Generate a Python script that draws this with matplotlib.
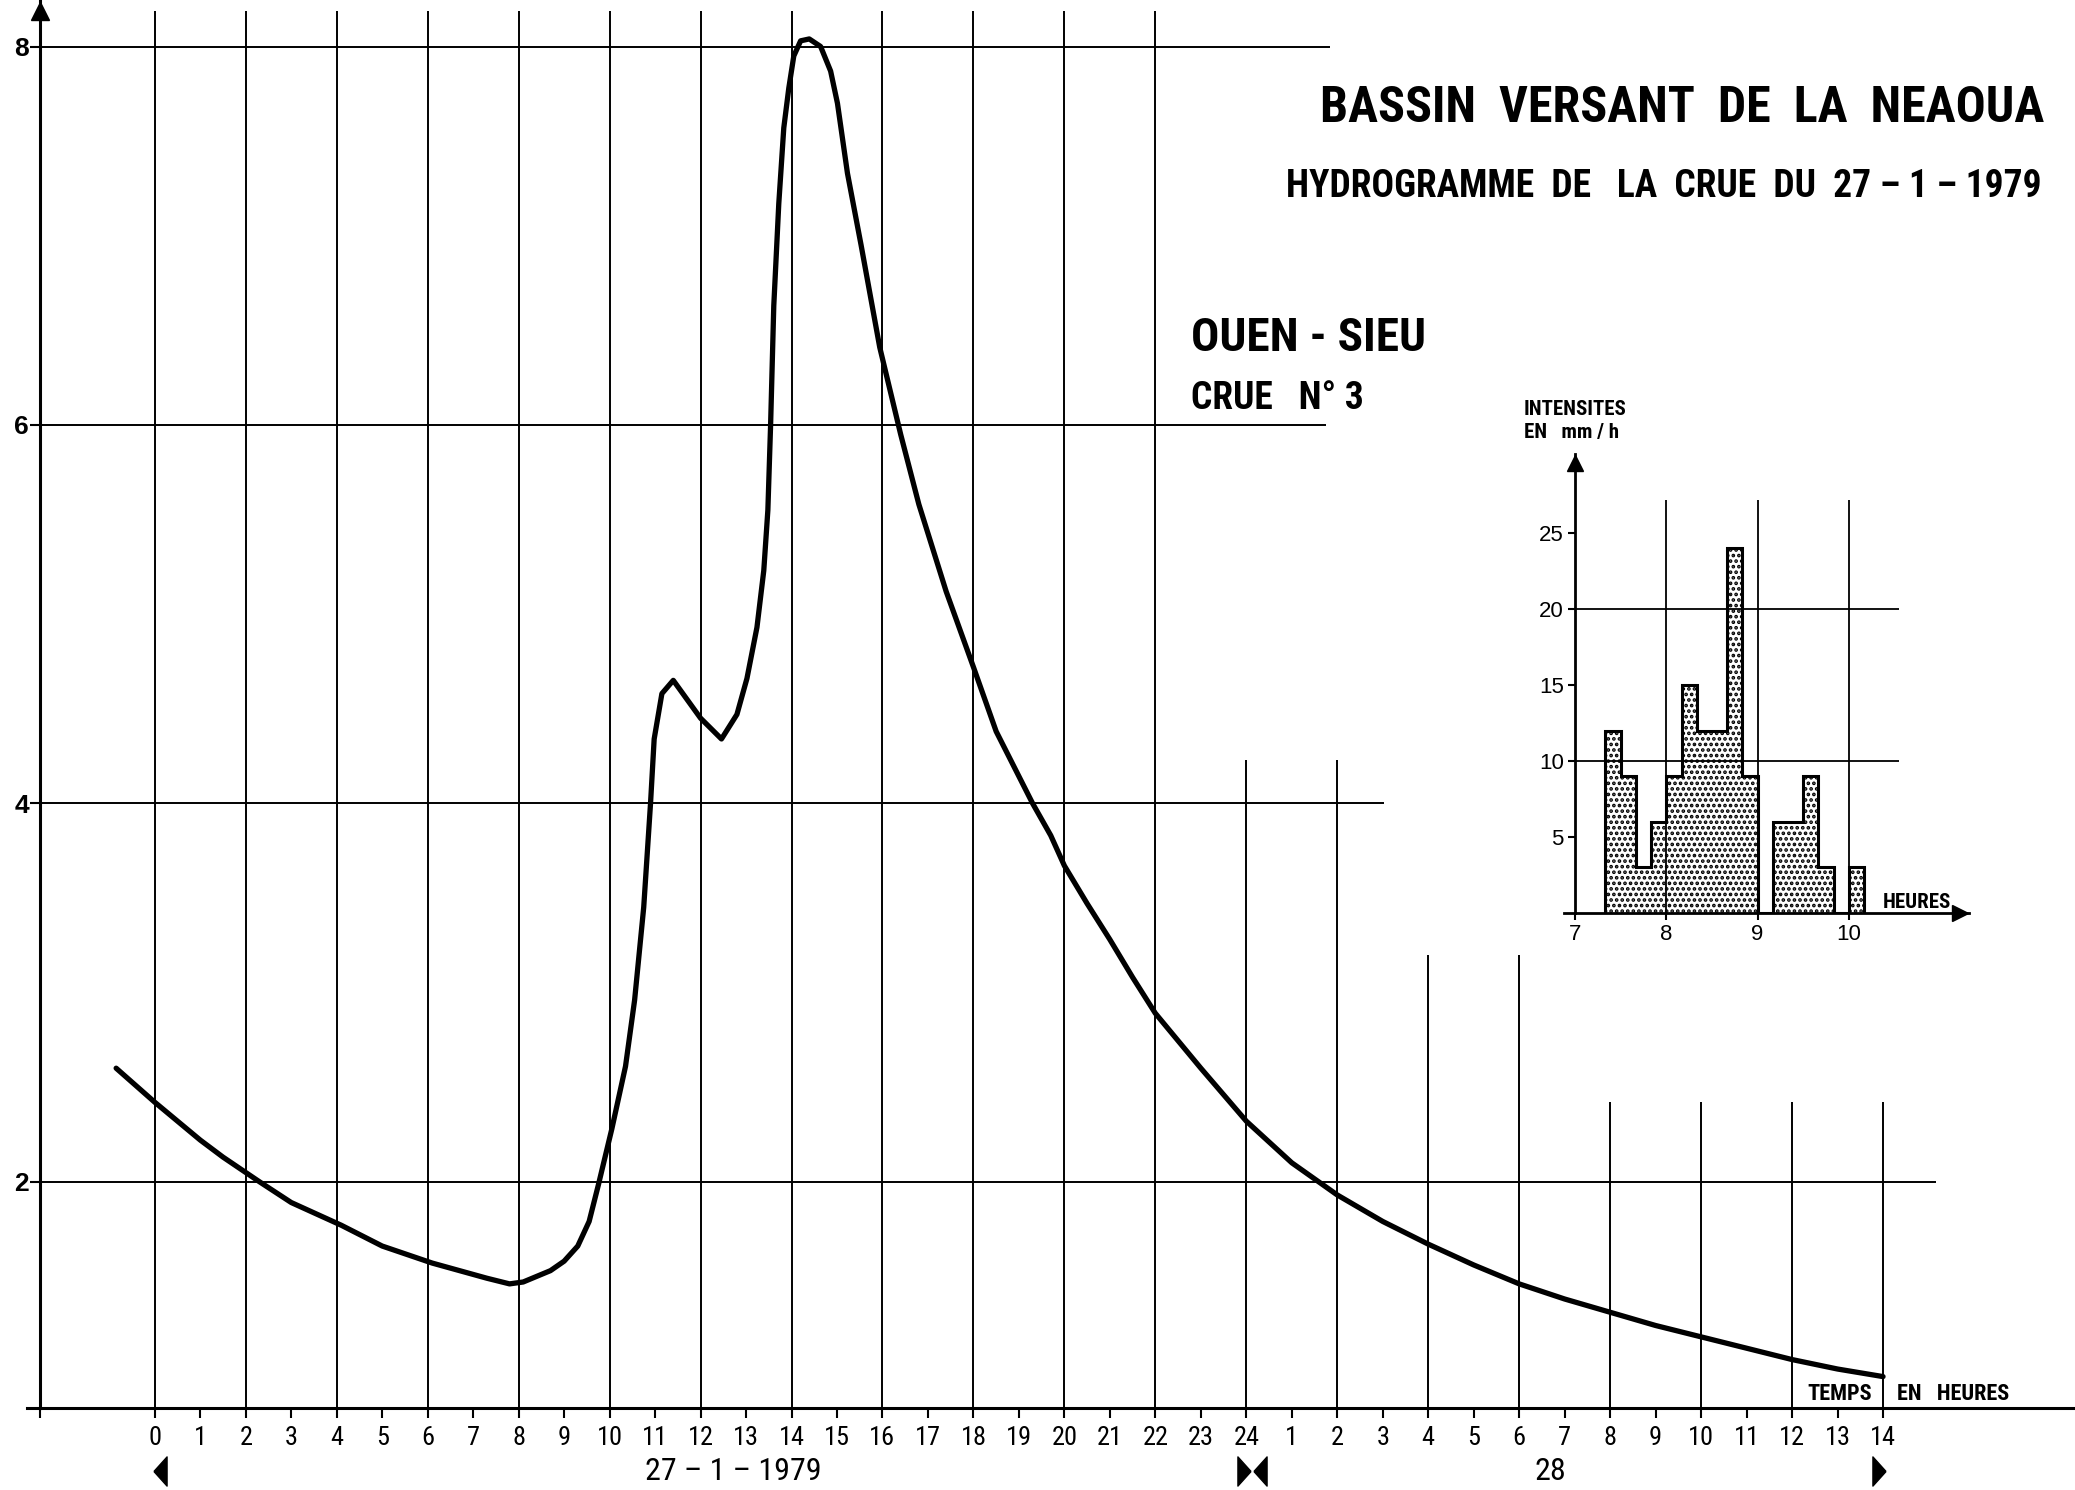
import numpy as np
import matplotlib.pyplot as plt
from matplotlib.ticker import FixedLocator

# Hydrogramme : temps en heures depuis le 27-1-1979 a 0 h, debit
heures = [-0.85, 0, 0.5, 1, 1.5, 2.3, 3, 4.1, 5, 6.1, 7, 7.3, 7.8, 8.1, 8.7, 9.0, 9.3, 9.55,
          9.75, 10.05, 10.35, 10.55, 10.75, 10.9, 10.98, 11.15, 11.4, 12.0, 12.46, 12.8,
          13.02, 13.24, 13.39, 13.48, 13.54, 13.61, 13.72, 13.83, 13.94, 14.05, 14.2,
          14.39, 14.64, 14.86, 15.01, 15.23, 15.53, 15.94, 16.4, 16.8,
          17.4, 18.0, 18.5, 19.3, 19.7, 20, 20.5, 21, 21.5, 22, 23, 24, 25, 26, 27, 28,
          29, 30, 31, 32, 33, 34, 35, 36, 37, 38]
debits = [2.60, 2.42, 2.32, 2.22, 2.13, 2.0, 1.89, 1.77, 1.66, 1.57, 1.51, 1.49, 1.46, 1.47,
          1.53, 1.58, 1.66, 1.79, 1.98, 2.28, 2.61, 2.96, 3.45, 4.0, 4.34, 4.58, 4.65, 4.45,
          4.34, 4.47, 4.66, 4.93, 5.23, 5.55, 6.0, 6.63, 7.17, 7.57, 7.78, 7.95, 8.03,
          8.04, 8.0, 7.87, 7.70, 7.33, 6.95, 6.41, 5.95, 5.58,
          5.12, 4.72, 4.38, 4.0, 3.83, 3.67, 3.47, 3.28, 3.08, 2.89, 2.60, 2.32, 2.10, 1.93,
          1.79, 1.67, 1.56, 1.46, 1.38, 1.31, 1.24, 1.18, 1.12, 1.06, 1.01, 0.97]

# graduations de l'axe des temps (27 puis 28 janvier)
etiquettes_heures = [str(h) for h in range(0, 25)] + [str(h) for h in range(1, 15)]
ticks_y = [2, 4, 6, 8]

# Hyetogramme : pas de 10 minutes a partir de 7 h 20 (minutes apres 7 h)
bornes_min = [20, 30, 40, 50, 60, 70, 80, 90, 100, 110, 120, 130, 140, 150, 160, 170, 180, 190]
intensites = [12, 9, 3, 6, 9, 15, 12, 12, 24, 9, 0, 6, 6, 9, 3, 0, 3]
ticks_int = [5, 10, 15, 20, 25]
ticks_h_int = [7, 8, 9, 10]

COND = ['Roboto Condensed', 'DejaVu Sans']
REG = ['Liberation Sans', 'DejaVu Sans']
plt.rcParams['font.family'] = COND
plt.rcParams['hatch.linewidth'] = 1.8

W, H = 2075, 1490
fig = plt.figure(figsize=(W / 100, H / 100), dpi=100)
fig.patch.set_facecolor('white')

########################## Graphique principal ##########################
px_h = 45.48      # pixels par heure
px_q = 189.2      # pixels par unite de debit
x0_axe, y0_axe = 40, 1408
h_axe = (x0_axe - 154.8) / px_h
q_axe = 0.804
ax = fig.add_axes([x0_axe / W, (H - y0_axe) / H, (W - x0_axe) / W, y0_axe / H])
ax.set_xlim(h_axe, h_axe + (W - x0_axe) / px_h)
ax.set_ylim(q_axe, q_axe + y0_axe / px_q)

for s in ['top', 'right']:
    ax.spines[s].set_visible(False)
for s in ['left', 'bottom']:
    ax.spines[s].set_linewidth(2.2)

ax.set_xticks(range(len(etiquettes_heures)))
ax.set_xticklabels(etiquettes_heures)
ax.xaxis.set_minor_locator(FixedLocator([h_axe]))
ax.tick_params(axis='x', which='both', direction='out', length=7, width=1.5,
               labelsize=19, pad=6)
ax.set_yticks(ticks_y)
ax.tick_params(axis='y', direction='out', length=7, width=1.5, labelsize=19, pad=1)
for lab in ax.get_yticklabels():
    lab.set_family(REG)
    lab.set_fontweight('bold')

# fleche de l'axe des debits
ax.plot([h_axe], [8.19], marker='^', ms=13, color='k', clip_on=False)
ax.plot([h_axe - 0.28, h_axe], [q_axe, q_axe], color='k', lw=2.2, clip_on=False)

# quadrillage
lw_g = 1.4
ax.vlines(range(0, 23, 2), q_axe, 8.19, color='k', lw=lw_g)
ax.vlines([24, 26], q_axe, 4.23, color='k', lw=lw_g)
ax.vlines([28, 30], q_axe, 3.20, color='k', lw=lw_g)
ax.vlines([32, 34, 36, 38], q_axe, 2.42, color='k', lw=lw_g)
ax.hlines(8, h_axe, 25.84, color='k', lw=lw_g)
ax.hlines(6, h_axe, 25.75, color='k', lw=lw_g)
ax.hlines(4, h_axe, 27.03, color='k', lw=lw_g)
ax.hlines(2, h_axe, 39.16, color='k', lw=lw_g)

# hydrogramme
ax.plot(heures, debits, color='k', lw=3.8, solid_joinstyle='round', solid_capstyle='round')

# textes sous l'axe des temps
ax.text(12.73, 0.47, '27 – 1 – 1979', ha='center', va='center', fontsize=23, clip_on=False)
ax.text(30.68, 0.47, '28', ha='center', va='center', fontsize=23, clip_on=False)
ax.text(37.75, 0.846, 'TEMPS', ha='right', va='baseline', fontsize=16, fontweight='bold')
ax.text(38.3, 0.846, 'EN   HEURES', ha='left', va='baseline', fontsize=16, fontweight='bold')

tri_g = [(-0.45, 0), (0.45, 1), (0.45, -1), (-0.45, 0)]
tri_d = [(0.45, 0), (-0.45, 1), (-0.45, -1), (0.45, 0)]
ax.plot([0.11, 24.29], [0.47, 0.47], ls='', marker=tri_g, ms=21, color='k', clip_on=False)
ax.plot([23.95, 37.92], [0.47, 0.47], ls='', marker=tri_d, ms=21, color='k', clip_on=False)

############################### Titres ##################################
fig.text(2044 / W, 1 - 122 / H, 'BASSIN  VERSANT  DE  LA  NEAOUA', ha='right',
         va='baseline', fontsize=36, fontweight='bold')
fig.text(2042 / W, 1 - 197 / H, 'HYDROGRAMME  DE   LA  CRUE  DU  27 – 1 – 1979', ha='right',
         va='baseline', fontsize=27, fontweight='bold')
fig.text(1191 / W, 1 - 351 / H, 'OUEN - SIEU', ha='left', va='baseline',
         fontsize=34, fontweight='bold')
fig.text(1191 / W, 1 - 409 / H, 'CRUE   N° 3', ha='left', va='baseline',
         fontsize=27, fontweight='bold')

############################ Hyetogramme ################################
px_t = 91.3   # pixels par heure
px_i = 15.2   # pixels par mm/h
xi0, yi0, xi1, yi1 = 1575, 913, 1969, 454
axi = fig.add_axes([xi0 / W, (H - yi0) / H, (xi1 - xi0) / W, (yi0 - yi1) / H])
xmax_i = 7 + (xi1 - xi0) / px_t
ymax_i = (yi0 - yi1) / px_i
axi.set_xlim(7, xmax_i)
axi.set_ylim(0, ymax_i)
axi.patch.set_alpha(0)
for s in ['top', 'right']:
    axi.spines[s].set_visible(False)
for s in ['left', 'bottom']:
    axi.spines[s].set_linewidth(2)

bornes_h = [7 + m / 60 for m in bornes_min]
axi.stairs(intensites, bornes_h, baseline=0, fill=True, facecolor='white',
           edgecolor='k', hatch='...', lw=2.2, zorder=2)
axi.vlines([8, 9, 10], 0, 27.2, color='k', lw=1.3, zorder=3)
axi.hlines([10, 20], 7, 10.55, color='k', lw=1.3, zorder=3)

axi.set_xticks(ticks_h_int)
axi.set_yticks(ticks_int)
axi.tick_params(axis='both', direction='out', length=5, width=1.5, labelsize=16, pad=3)
for lab in axi.get_xticklabels() + axi.get_yticklabels():
    lab.set_family(REG)

axi.plot([6.88, 7], [0, 0], color='k', lw=2, clip_on=False)
axi.plot([xmax_i - 0.1], [0], marker='>', ms=12, color='k', clip_on=False)
axi.plot([7], [ymax_i - 0.6], marker='^', ms=12, color='k', clip_on=False)

axi.text(10.37, 0.35, 'HEURES', ha='left', va='baseline', fontsize=15, fontweight='bold')
axi.text(6.44, 33.1, 'INTENSITES', ha='left', va='center', fontsize=15,
         fontweight='bold', clip_on=False)
axi.text(6.44, 31.6, 'EN   mm / h', ha='left', va='center', fontsize=15,
         fontweight='bold', clip_on=False)

fig.savefig('out.png', dpi=100, facecolor='white')
